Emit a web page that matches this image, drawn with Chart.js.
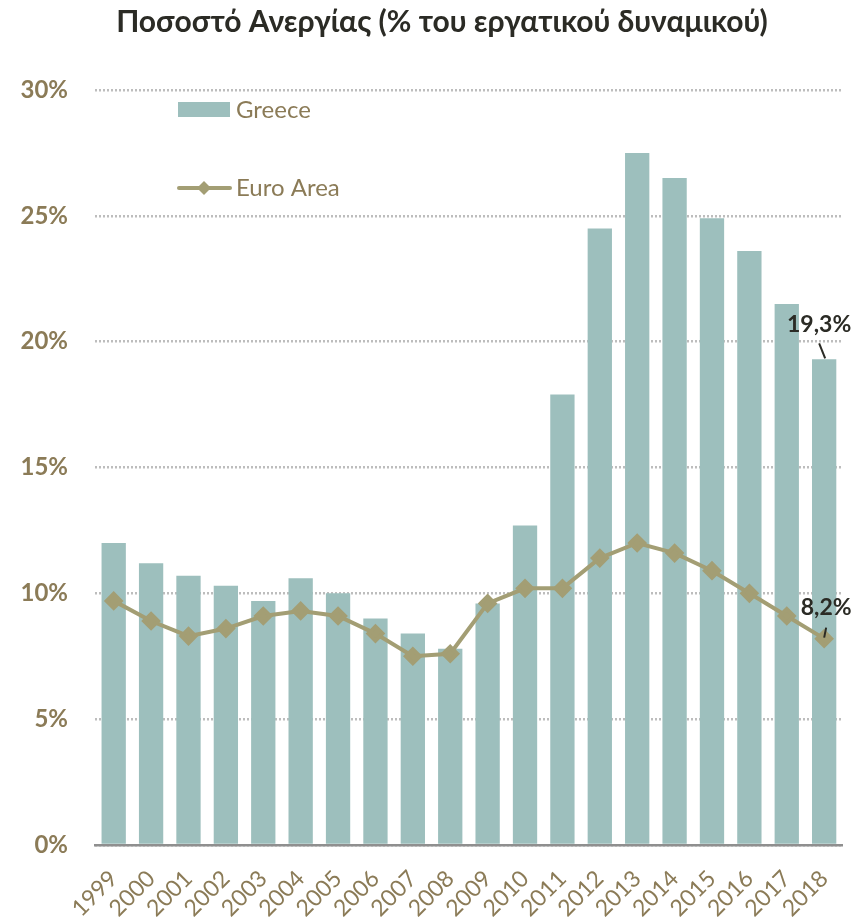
<!DOCTYPE html>
<html>
<head>
<meta charset="utf-8">
<script src="https://cdn.jsdelivr.net/npm/chart.js@4/dist/chart.umd.min.js"></script>
<style>
  html, body { margin: 0; padding: 0; background: #fff; }
  #wrap { width: 856px; height: 919px; }
</style>
</head>
<body>
<div id="wrap"><canvas id="chart"></canvas></div>
<script>
// years on the x axis
const years = ['1999', '2000', '2001', '2002', '2003', '2004', '2005', '2006', '2007', '2008',
               '2009', '2010', '2011', '2012', '2013', '2014', '2015', '2016', '2017', '2018'];
// unemployment rate, % of labour force
const greece = [12.0, 11.2, 10.7, 10.3, 9.7, 10.6, 10.0, 9.0, 8.4, 7.8,
                9.6, 12.7, 17.9, 24.5, 27.5, 26.5, 24.9, 23.6, 21.5, 19.3];
const euroArea = [9.7, 8.9, 8.3, 8.6, 9.1, 9.3, 9.1, 8.4, 7.5, 7.6,
                  9.6, 10.2, 10.2, 11.4, 12.0, 11.6, 10.9, 10.0, 9.1, 8.2];
const yTicks = [0, 5, 10, 15, 20, 25, 30];
const titleText = 'Ποσοστό Ανεργίας (% του εργατικού δυναμικού)';

const barColor = '#9dbfbd';
const lineColor = '#a39e74';
const tickColor = '#8b7b57';
const FONT = 'Lato, "Noto Sans", sans-serif';

// title, legend drawn inside the plot, plus the two value labels on the last year
const extras = {
    id: 'extras',
    afterDraw(chart) {
        const ctx = chart.ctx;
        ctx.save();

        // title (sits a bit left of the plot centre, like the original)
        ctx.fillStyle = '#2b2b25';
        ctx.font = 'bold 30px ' + FONT;
        ctx.textAlign = 'center';
        ctx.textBaseline = 'middle';
        ctx.fillText(titleText, 442, 22);

        // legend
        ctx.fillStyle = barColor;
        ctx.fillRect(178, 102, 52, 15);
        ctx.strokeStyle = lineColor;
        ctx.lineWidth = 4;
        ctx.lineCap = 'round';
        ctx.beginPath();
        ctx.moveTo(179, 188);
        ctx.lineTo(230, 188);
        ctx.stroke();
        ctx.fillStyle = lineColor;
        ctx.beginPath();
        ctx.moveTo(204, 181); ctx.lineTo(211, 188); ctx.lineTo(204, 195); ctx.lineTo(197, 188);
        ctx.closePath();
        ctx.fill();
        ctx.fillStyle = tickColor;
        ctx.font = '24px ' + FONT;
        ctx.textAlign = 'left';
        ctx.fillText('Greece', 236, 110);
        ctx.fillText('Euro Area', 236, 188);

        // value labels on 2018
        const last = years.length - 1;
        const bar = chart.getDatasetMeta(0).data[last];
        const pt = chart.getDatasetMeta(1).data[last];
        const fmt = v => v.toFixed(1).replace('.', ',') + '%';
        ctx.fillStyle = '#2b2b25';
        ctx.strokeStyle = '#2b2b25';
        ctx.lineWidth = 2;
        ctx.lineCap = 'butt';
        ctx.font = 'bold 23px ' + FONT;
        ctx.textAlign = 'center';
        ctx.fillText(fmt(greece[last]), bar.x - 5, bar.y - 35);
        ctx.beginPath();
        ctx.moveTo(bar.x - 5, bar.y - 16);
        ctx.lineTo(bar.x + 1, bar.y - 1);
        ctx.stroke();
        ctx.fillText(fmt(euroArea[last]), pt.x + 2, pt.y - 31);
        ctx.beginPath();
        ctx.moveTo(pt.x + 2, pt.y - 11);
        ctx.lineTo(pt.x, pt.y - 1);
        ctx.stroke();

        ctx.restore();
    }
};

new Chart(document.getElementById('chart'), {
    data: {
        labels: years,
        datasets: [
            {
                type: 'bar',
                label: 'Greece',
                data: greece,
                backgroundColor: barColor,
                barPercentage: 0.65,
                categoryPercentage: 1,
                order: 2
            },
            {
                type: 'line',
                label: 'Euro Area',
                data: euroArea,
                borderColor: lineColor,
                backgroundColor: lineColor,
                borderWidth: 4,
                pointStyle: 'rectRot',
                pointRadius: 7,
                pointHoverRadius: 7,
                tension: 0,
                order: 1
            }
        ]
    },
    options: {
        responsive: true,
        maintainAspectRatio: false,
        animation: false,
        layout: { padding: { left: 0, right: 13, top: 90, bottom: 0 } },
        plugins: {
            legend: { display: false },
            tooltip: { enabled: false },
            title: { display: false }
        },
        scales: {
            x: {
                grid: { display: false },
                border: { display: true, color: '#8f8f8f', width: 2.5 },
                ticks: {
                    color: tickColor,
                    font: { family: FONT, size: 23 },
                    minRotation: 45,
                    maxRotation: 45,
                    padding: 12,
                    autoSkip: false
                },
                afterFit(scale) { scale.height = 74; }
            },
            y: {
                min: 0,
                max: 30,
                afterBuildTicks(scale) { scale.ticks = yTicks.map(v => ({ value: v })); },
                grid: { color: '#bdbdbd', lineWidth: 2.5, drawTicks: false },
                border: { display: false, dash: [2, 2] },
                ticks: {
                    color: tickColor,
                    font: { family: FONT, size: 24, weight: 'bold' },
                    padding: 27,
                    callback: v => v + '%'
                },
                afterFit(scale) { scale.width = 95; }
            }
        }
    },
    plugins: [extras]
});
</script>
</body>
</html>
